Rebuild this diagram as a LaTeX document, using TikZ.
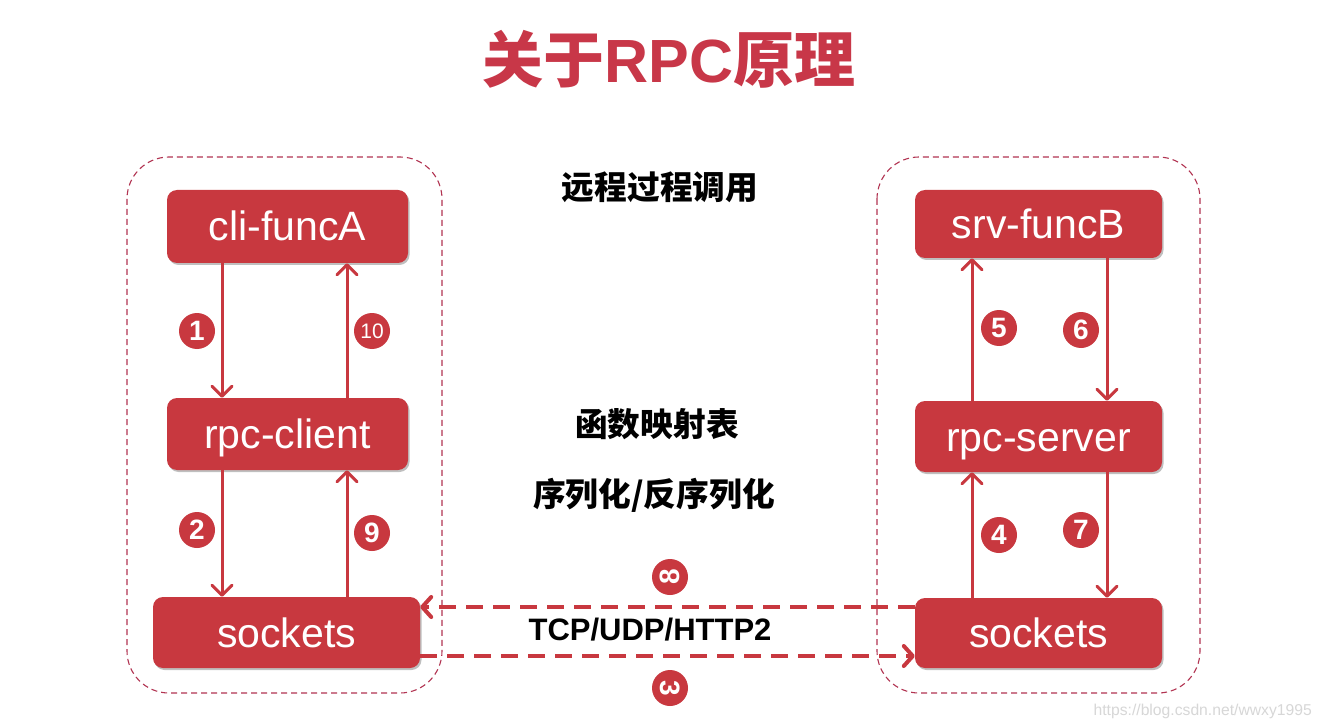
\documentclass[tikz,border=0pt]{standalone}
\usepackage{fontspec}
\setmainfont{Liberation Sans}
\newfontfamily\cjk{Noto Sans CJK SC}
\usetikzlibrary{arrows.meta,shadows}
\definecolor{boxred}{RGB}{200,56,63}
\definecolor{titlered}{RGB}{200,55,72}
\definecolor{frame}{RGB}{178,52,82}
\definecolor{wm}{RGB}{215,215,215}
\tikzset{
  box/.style={draw=none,fill=boxred,rounded corners=10pt,text=white,font=\fontsize{41}{41}\selectfont,inner sep=0pt,
    text height=29pt,text depth=0pt,
    drop shadow={shadow xshift=1.5pt,shadow yshift=-2pt,opacity=0.25,fill=black}},
  grp/.style={draw=frame,line width=1.1pt,dash pattern=on 6pt off 4pt,rounded corners=42pt},
  arr/.style={draw=boxred,line width=3pt,-{Straight Barb[length=10pt,width=20pt,line width=3pt,round]}},
  darr/.style={draw=boxred,line width=4pt,dash pattern=on 17pt off 10pt,-{Straight Barb[length=9pt,width=20pt,line width=4pt,round]}},
  num/.style={circle,fill=boxred,text=white,minimum size=36pt,inner sep=0pt,font=\bfseries\fontsize{28}{28}\selectfont},
  lab/.style={font=\cjk\bfseries\fontsize{32.7}{33}\selectfont,text=black},
}
\begin{document}
\begin{tikzpicture}[x=1pt,y=-1pt]
\fill[white] (0,0) rectangle (1322,727);
\useasboundingbox (0,0) rectangle (1322,727);

\node[text=titlered,font=\bfseries\fontsize{61}{61}\selectfont] (title) at (669,59) {{\cjk 关于}RPC{\cjk 原理}};

\draw[grp] (127,157) rectangle (442,693);
\draw[grp] (877,157) rectangle (1200,693);

\node[box,minimum width=241pt,minimum height=73pt] (cliA) at (287.5,226.5) {cli-funcA};
\node[box,minimum width=241pt,minimum height=72pt] (rpcc) at (287.5,434) {rpc-client};
\node[box,minimum width=267pt,minimum height=71pt] (sockL) at (286.5,632.5) {sockets};
\node[box,minimum width=247pt,minimum height=68pt] (srvB) at (1038.5,224) {srv-funcB};
\node[box,minimum width=247pt,minimum height=71pt] (rpcs) at (1038.5,436.5) {rpc-server};
\node[box,minimum width=247pt,minimum height=70pt] (sockR) at (1038.5,633) {sockets};

\draw[arr] ([xshift=-65.5pt]cliA.south) -- ([xshift=-65.5pt]rpcc.north);
\draw[arr] ([xshift=59.5pt]rpcc.north) -- ([xshift=59.5pt]cliA.south);
\draw[arr] ([xshift=-65.5pt]rpcc.south) -- ([xshift=-64.5pt]sockL.north);
\draw[arr] ([xshift=60.5pt]sockL.north) -- ([xshift=59.5pt]rpcc.south);
\draw[arr] ([xshift=-66.5pt]rpcs.north) -- ([xshift=-66.5pt]srvB.south);
\draw[arr] ([xshift=68.5pt]srvB.south) -- ([xshift=68.5pt]rpcs.north);
\draw[arr] ([xshift=-66.5pt]sockR.north) -- ([xshift=-66.5pt]rpcs.south);
\draw[arr] ([xshift=68.5pt]rpcs.south) -- ([xshift=68.5pt]sockR.north);

\draw[darr] ([yshift=26pt]sockR.west) -- ([yshift=25.5pt]sockL.east);
\draw[darr] ([yshift=-23.5pt]sockL.east) -- ([yshift=-23pt]sockR.west);

\node[num] (n1) at (197,331) {1};
\node[num,font=\fontsize{21}{21}\selectfont] (n10) at (372,331) {10};
\node[num] (n2) at (197,530) {2};
\node[num] (n9) at (372,533) {9};
\node[num] (n5) at (999,328) {5};
\node[num] (n6) at (1081,330) {6};
\node[num] (n4) at (999,535) {4};
\node[num] (n7) at (1081,530) {7};
\node[num] (n8) at (670,577) {\rotatebox{90}{8}};
\node[num] (n3) at (670,688) {\rotatebox{-90}{3}};

\node[lab] (t1) at (660,187) {远程过程调用};
\node[lab] (t2) at (657,424) {函数映射表};
\node[lab] (t3) at (654,495) {序列化/反序列化};
\node[font=\bfseries\fontsize{31}{31}\selectfont] (tcp) at (650,630) {TCP/UDP/HTTP2};

\node[anchor=base east,text=wm,font=\fontsize{15.7}{16}\selectfont,inner sep=0pt] (wmk) at (1312,715) {https://blog.csdn.net/wwxy1995};
\end{tikzpicture}
\end{document}
